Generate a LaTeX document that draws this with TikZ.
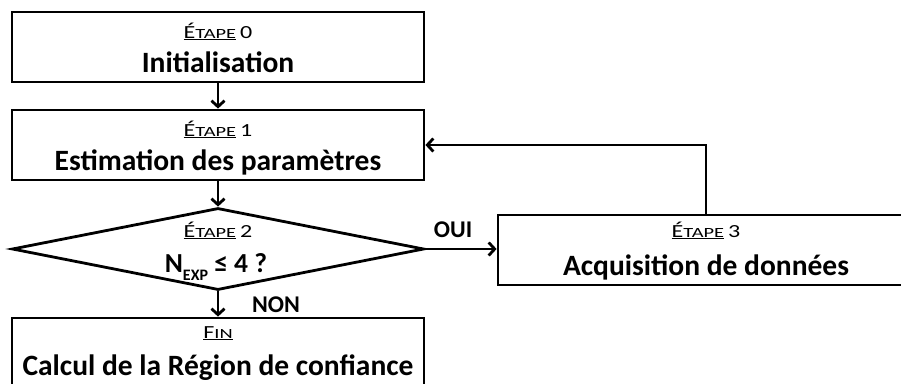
\documentclass[tikz,border=0pt]{standalone}
\usepackage{fontspec}
\setmainfont{Carlito}
\usetikzlibrary{arrows.meta,shapes.geometric}
\newcommand\etp[3]{\scalebox{1.3}[1]{\underline{#1{\fontsize{14}{14}\selectfont\scalebox{1.12}[1]{#2}}}\,#3}}
\begin{document}
\begin{tikzpicture}[x=1pt,y=-1pt,
  box/.style={draw,line width=2.8pt,rectangle,inner sep=0pt},
  dia/.style={draw,line width=2.8pt,diamond,inner sep=0pt,aspect=5},
  lbl/.style={anchor=base,inner sep=0pt,font=\fontsize{18.5}{18.5}\selectfont},
  main/.style={anchor=base,inner sep=0pt,font=\fontsize{29.5}{29.5}\selectfont\bfseries},
  yn/.style={anchor=base,inner sep=0pt,font=\fontsize{24}{24}\selectfont\bfseries},
  arr/.style={line width=2.8pt,-{Straight Barb[length=6pt,width=13pt]}}]
\useasboundingbox (0,0) rectangle (901,383);
\clip (0,0) rectangle (901,383);
% boxes
\node[box,minimum width=412pt,minimum height=70pt] (b0) at (218,47) {};
\node[box,minimum width=412pt,minimum height=70pt] (b1) at (218,145) {};
\node[dia,minimum width=412pt,minimum height=82pt] (d2) at (218,249) {};
\node[box,minimum width=416pt,minimum height=70pt] (b3) at (706,250) {};
\node[box,minimum width=412pt,minimum height=70pt] (bf) at (218,353) {};
% texts
\node[lbl] (t0) at (218,38) {\etp{É}{TAPE}{0}};
\node[main] (m0) at (218,72) {Initialisation};
\node[lbl] (t1) at (218,136) {\etp{É}{TAPE}{1}};
\node[main] (m1) at (218,170) {Estimation des paramètres};
\node[lbl] (t2) at (218,237) {\etp{É}{TAPE}{2}};
\node[main,font=\fontsize{27.5}{27.5}\selectfont\bfseries] (m2) at (216,272) {N\raisebox{-8pt}{\fontsize{16}{16}\selectfont EXP} ≤ 4 ?};
\node[lbl] (t3) at (706,237) {\etp{É}{TAPE}{3}};
\node[main] (m3) at (706,275) {Acquisition de données};
\node[lbl] (tf) at (218,338) {\scalebox{1.3}[1]{\underline{F{\fontsize{14}{14}\selectfont\scalebox{1.12}[1]{IN}}}}};
\node[main] (mf) at (218,375) {Calcul de la Région de confiance};
\node[yn] (oui) at (453,237) {OUI};
\node[yn] (non) at (276,312) {NON};
% connectors
\draw[arr] (b0.south) -- (b1.north);
\draw[arr] (b1.south) -- (d2.north);
\draw[arr] (d2.south) -- (bf.north);
\draw[arr] (d2.east) -- (d2.east -| b3.west);
\draw[arr] (b3.north) |- (b1.east);
\end{tikzpicture}
\end{document}
